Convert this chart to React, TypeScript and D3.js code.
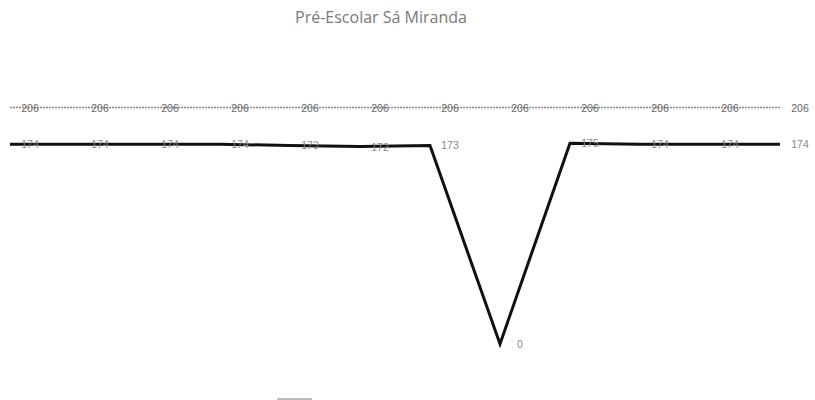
import React, { useEffect, useRef } from "react";
import * as d3 from "d3";

// values
const categories = ["1", "2", "3", "4", "5", "6", "7", "8", "9", "10", "11", "12"];
const capacidade = [206, 206, 206, 206, 206, 206, 206, 206, 206, 206, 206, 206];
const alunos = [174, 174, 174, 174, 173, 172, 173, 0, 175, 174, 174, 174];
const title = "Pré-Escolar Sá Miranda";

const W = 815;
const H = 400;

export default function App() {
  const ref = useRef<SVGSVGElement>(null);

  useEffect(() => {
    const svg = d3.select(ref.current);
    svg.selectAll("*").remove();

    const x = d3.scalePoint<string>().domain(categories).range([10, 780]);
    const y = d3.scaleLinear().domain([0, 210]).range([344, 103]);

    svg
      .append("text")
      .attr("x", 381)
      .attr("y", 23)
      .attr("text-anchor", "middle")
      .attr("font-family", "Open Sans")
      .attr("font-size", 16)
      .attr("fill", "#7a7a7a")
      .text(title);

    const line = d3
      .line<number>()
      .x((d, i) => x(categories[i]) as number)
      .y((d) => y(d));

    // linha cinzenta fina
    svg
      .append("path")
      .datum(capacidade)
      .attr("d", line)
      .attr("fill", "none")
      .attr("stroke", "#888")
      .attr("stroke-width", 1.5)
      .attr("stroke-dasharray", "2,1");

    // linha preta grossa
    svg
      .append("path")
      .datum(alunos)
      .attr("d", line)
      .attr("fill", "none")
      .attr("stroke", "#111")
      .attr("stroke-width", 3)
      .attr("stroke-linejoin", "miter");

    const addLabels = (data: number[], cls: string, color: string) => {
      svg
        .selectAll("text." + cls)
        .data(data)
        .enter()
        .append("text")
        .attr("class", cls)
        .attr("x", (d, i) => (x(categories[i]) as number) + 20)
        .attr("y", (d) => y(d) + 4)
        .attr("text-anchor", "middle")
        .attr("font-family", "Liberation Sans")
        .attr("font-size", 10.5)
        .attr("fill", color)
        .text((d) => d);
    };
    addLabels(capacidade, "lab1", "#666");
    addLabels(alunos, "lab2", "#888");

    // legenda (cortada em baixo)
    svg
      .append("line")
      .attr("x1", 277)
      .attr("x2", 312)
      .attr("y1", 399)
      .attr("y2", 399)
      .attr("stroke", "#bbb")
      .attr("stroke-width", 2);
  }, []);

  return (
    <svg
      ref={ref}
      width={W}
      height={H}
      style={{ position: "absolute", left: 0, top: 0, background: "#fff" }}
    />
  );
}
